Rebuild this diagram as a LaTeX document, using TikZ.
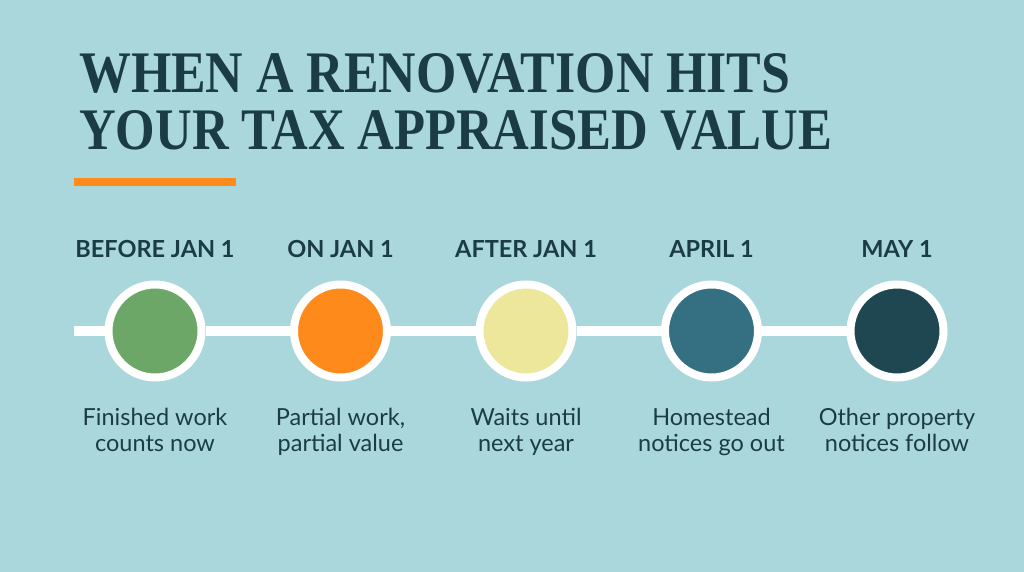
\documentclass[tikz,border=0pt]{standalone}
\usepackage{fontspec}
\setmainfont{Lato}
\newfontfamily\titlefont{Liberation Serif}
\definecolor{bg}{HTML}{AAD7DC}
\definecolor{ink}{HTML}{1C3C45}
\definecolor{barorange}{HTML}{FF8C1A}
\definecolor{cgreen}{HTML}{6CA768}
\definecolor{corange}{HTML}{FF8A1C}
\definecolor{cyellow}{HTML}{EDE79B}
\definecolor{cteal}{HTML}{346F82}
\definecolor{cdark}{HTML}{1F4751}
\tikzset{
  titleline/.style={anchor=south west, inner sep=0pt, text=ink},
  datelabel/.style={anchor=base, inner sep=0pt, text=ink, font=\fontsize{23.5}{26}\selectfont\bfseries},
  desclabel/.style={anchor=base, inner sep=0pt, text=ink, align=center, font=\fontsize{23.5}{25.5}\selectfont},
  dot/.style={circle, fill=#1, draw=white, line width=8pt, minimum size=93pt, inner sep=0pt},
  track/.style={white, line width=10pt}
}
\begin{document}
\begin{tikzpicture}[x=1pt,y=-1pt]
\fill[bg] (0,0) rectangle (1024,572);
\useasboundingbox (0,0) rectangle (1024,572);
\node[titleline] (t1) at (79,94) {\resizebox{711pt}{39pt}{\titlefont\bfseries WHEN A RENOVATION HITS}};
\node[titleline] (t2) at (79,151) {\resizebox{753pt}{39pt}{\titlefont\bfseries YOUR TAX APPRAISED VALUE}};
\fill[barorange] (74,178) rectangle (236,186);
\coordinate (start) at (74,331);
\node[dot=cgreen] (c1) at (155,331) {};
\node[dot=corange] (c2) at (340.5,331) {};
\node[dot=cyellow] (c3) at (526,331) {};
\node[dot=cteal] (c4) at (711.5,331) {};
\node[dot=cdark] (c5) at (897,331) {};
\draw[track] (start) -- (c1);
\draw[track] (c1) -- (c2);
\draw[track] (c2) -- (c3);
\draw[track] (c3) -- (c4);
\draw[track] (c4) -- (c5);
\node[datelabel] (l1) at (155,257) {BEFORE JAN 1};
\node[datelabel] (l2) at (340.5,257) {ON JAN 1};
\node[datelabel] (l3) at (526,257) {AFTER JAN 1};
\node[datelabel] (l4) at (711.5,257) {APRIL 1};
\node[datelabel] (l5) at (897,257) {MAY 1};
\node[desclabel] (d1) at (155,451) {Finished work\\counts now};
\node[desclabel] (d2) at (340.5,451) {Partial work,\\partial value};
\node[desclabel] (d3) at (526,451) {Waits until\\next year};
\node[desclabel] (d4) at (711.5,451) {Homestead\\notices go out};
\node[desclabel] (d5) at (897,451) {Other property\\notices follow};
\end{tikzpicture}
\end{document}
